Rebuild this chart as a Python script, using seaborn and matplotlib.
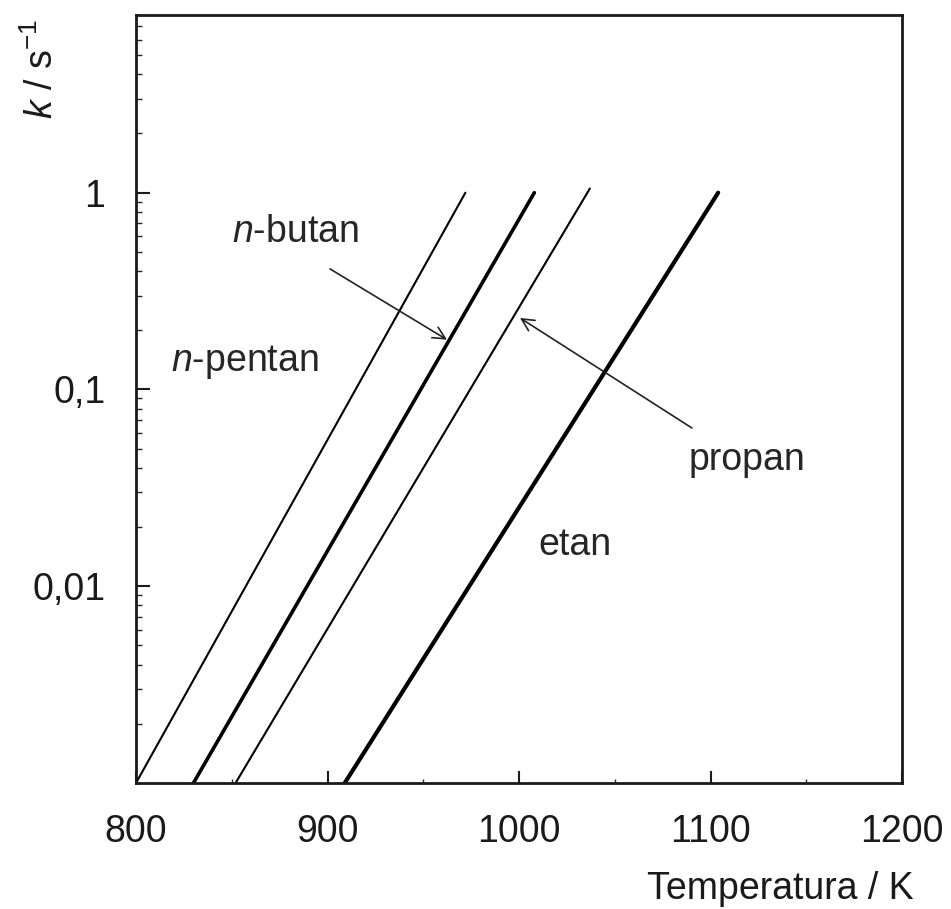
import numpy as np
import pandas as pd
import seaborn as sns
import matplotlib.pyplot as plt
import matplotlib.ticker as mtick

# temperature (K) and rate constant (1/s) at line ends
species = ["n-pentan", "n-butan", "propan", "etan"]
temp_K = [[800, 972], [830, 1008], [852, 1037], [909, 1104]]
k_per_s = [[0.001, 1.0], [0.001, 1.0], [0.001, 1.05], [0.001, 1.0]]
line_widths = [1.5, 2.6, 1.5, 3.0]

y_ticks = [0.01, 0.1, 1]
y_tick_labels = ["0,01", "0,1", "1"]
x_ticks = [800, 900, 1000, 1100, 1200]
x_tick_labels = ["800", "900", "1000", "1100", "1200"]

FS = 27

sns.set_style("ticks")
plt.rcParams["font.family"] = ["Liberation Sans", "DejaVu Sans"]
plt.rcParams["mathtext.fontset"] = "custom"
plt.rcParams["mathtext.rm"] = "Liberation Sans"
plt.rcParams["mathtext.it"] = "Liberation Sans:italic"

rows = []
for name, ts, ks in zip(species, temp_K, k_per_s):
    for t, k in zip(ts, ks):
        rows.append({"species": name, "T": t, "k": k})
df = pd.DataFrame(rows)

fig = plt.figure(figsize=(9.51, 9.09), dpi=100)
ax = fig.add_axes([0.143, 0.1386, 0.8055, 0.8449])

for name, lw in zip(species, line_widths):
    sns.lineplot(data=df[df.species == name], x="T", y="k", ax=ax,
                 color="black", linewidth=lw, legend=False)

ax.set_yscale("log")
ax.set_xlim(800, 1200)
ax.set_ylim(0.001, 8)

ax.set_xticks(x_ticks)
ax.set_xticklabels(x_tick_labels)
ax.xaxis.set_minor_locator(mtick.MultipleLocator(50))
ax.set_yticks(y_ticks)
ax.set_yticklabels(y_tick_labels)
ax.yaxis.set_minor_locator(mtick.LogLocator(base=10, subs=np.arange(2, 10)))
ax.yaxis.set_minor_formatter(mtick.NullFormatter())

ax.tick_params(axis="x", which="major", direction="in", length=9, width=1.5,
               labelsize=FS, pad=22, colors="#1a1a1a")
ax.tick_params(axis="x", which="minor", direction="in", length=3, width=1)
ax.tick_params(axis="y", which="major", direction="in", length=10, width=1.5,
               labelsize=FS, pad=22, colors="#1a1a1a")
ax.tick_params(axis="y", which="minor", direction="in", length=4, width=1)

for sp in ax.spines.values():
    sp.set_linewidth(2)
    sp.set_color("#1a1a1a")

ax.set_xlabel("Temperatura / K", fontsize=FS, loc="right", color="#1a1a1a")
ax.xaxis.set_label_coords(1.015, -0.115)
ax.xaxis.label.set_horizontalalignment("right")
ax.set_ylabel(r"$k$ / s$^{-1}$", fontsize=FS, loc="top", color="#1a1a1a")
ax.yaxis.set_label_coords(-0.098, 0.995)

# labels and arrows
ax.text(857, 0.138, r"$n$-pentan", fontsize=FS, ha="center", va="center")
ax.text(883, 0.63, r"$n$-butan", fontsize=FS, ha="center", va="center")
ax.text(1119, 0.0438, "propan", fontsize=FS, ha="center", va="center")
ax.text(1029, 0.0162, "etan", fontsize=FS, ha="center", va="center")

arrow = dict(arrowstyle="->", color="#222222", lw=1.2, mutation_scale=22,
             shrinkA=0, shrinkB=0)
ax.annotate("", xy=(962.4, 0.179), xytext=(901.3, 0.41), arrowprops=arrow)
ax.annotate("", xy=(1000.5, 0.231), xytext=(1090.3, 0.0637), arrowprops=arrow)

fig.savefig("out.png", dpi=100)
